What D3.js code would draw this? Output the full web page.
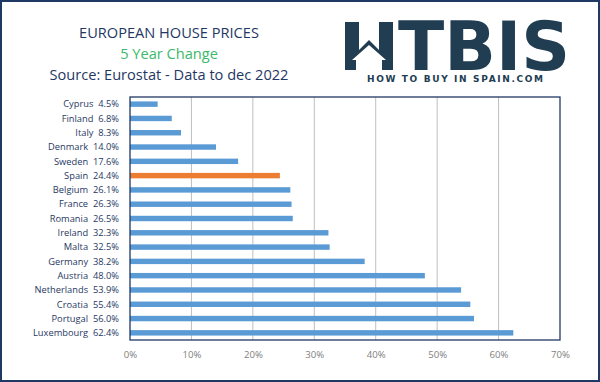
<!DOCTYPE html>
<html><head><meta charset="utf-8">
<script src="https://cdn.jsdelivr.net/npm/d3@7"></script>
<style>html,body{margin:0;padding:0;background:#fff;}svg{display:block;}</style>
</head><body>
<script>
const countries = ["Cyprus","Finland","Italy","Denmark","Sweden","Spain","Belgium","France","Romania","Ireland","Malta","Germany","Austria","Netherlands","Croatia","Portugal","Luxembourg"];
const changes = [4.5,6.8,8.3,14.0,17.6,24.4,26.1,26.3,26.5,32.3,32.5,38.2,48.0,53.9,55.4,56.0,62.4];
const highlight = "Spain";
const xTicks = [0,10,20,30,40,50,60,70];
const titleLines = ["EUROPEAN HOUSE PRICES","5 Year Change","Source: Eurostat - Data to dec 2022"];
const logoText = "TBIS";
const logoSub = "HOW TO BUY IN SPAIN.COM";

const W = 600, H = 382;
const svg = d3.select("body").append("svg").attr("width", W).attr("height", H);
svg.append("rect").attr("x",1).attr("y",1).attr("width",W-2).attr("height",H-2)
  .attr("fill","#fff").attr("stroke","#1f3864").attr("stroke-width",2);

const plot = {l:130, t:97, r:560, b:340};
const x = d3.scaleLinear().domain([0,70]).range([plot.l, plot.r]);
const y = d3.scaleBand().domain(countries).range([plot.t, plot.b]).paddingInner(0.62).paddingOuter(0.31);

// gridlines
svg.append("g").selectAll("line").data(xTicks.slice(1,-1)).join("line")
  .attr("x1",d=>x(d)).attr("x2",d=>x(d)).attr("y1",plot.t).attr("y2",plot.b)
  .attr("stroke","#bfbfbf").attr("stroke-width",1);

// bars
svg.append("g").selectAll("rect").data(countries).join("rect")
  .attr("x", x(0)).attr("y", d=>y(d))
  .attr("width", (d,i)=>x(changes[i])-x(0)).attr("height", y.bandwidth())
  .attr("fill", d=> d===highlight ? "#ed7d31" : "#5b9bd5");

// plot frame
svg.append("rect").attr("x",plot.l).attr("y",plot.t).attr("width",plot.r-plot.l).attr("height",plot.b-plot.t)
  .attr("fill","none").attr("stroke","#1f3864").attr("stroke-width",1.3);

// category labels
svg.append("g").selectAll("text").data(countries).join("text")
  .attr("x", 119).attr("y", d=>y(d)+y.bandwidth()/2).attr("dy","0.35em")
  .attr("text-anchor","end").attr("font-family","'Open Sans', sans-serif").attr("font-size",9.3)
  .attr("fill","#1f3864").style("white-space","pre")
  .text((d,i)=> d + "  " + changes[i].toFixed(1) + "%");

// x axis
const xAxis = d3.axisBottom(x).tickValues(xTicks).tickFormat(d=>d+"%").tickSize(0).tickPadding(11);
const ga = svg.append("g").attr("transform",`translate(0,${plot.b})`).call(xAxis);
ga.select(".domain").remove();
ga.selectAll("text").attr("font-family","'Open Sans', sans-serif").attr("font-size",9.6).attr("fill","#808080");

// titles
const tcx = 169;
const tfs = 14.6;
svg.append("text").attr("x",tcx).attr("y",38).attr("text-anchor","middle")
  .attr("font-family","'Open Sans', sans-serif").attr("font-size",tfs).attr("fill","#1f3864").text(titleLines[0]);
svg.append("text").attr("x",tcx).attr("y",59).attr("text-anchor","middle")
  .attr("font-family","'Open Sans', sans-serif").attr("font-size",tfs).attr("fill","#3cb96a").text(titleLines[1]);
svg.append("text").attr("x",tcx).attr("y",80).attr("text-anchor","middle")
  .attr("font-family","'Open Sans', sans-serif").attr("font-size",tfs).attr("fill","#1f3864").text(titleLines[2]);

// logo
const logoCol = "#213d52";
const lg = svg.append("g").attr("fill", logoCol);
// H with house roof
lg.append("rect").attr("x",345).attr("y",22).attr("width",14).attr("height",48);
lg.append("rect").attr("x",379).attr("y",22).attr("width",14).attr("height",48);
lg.append("path").attr("d","M359,50 L369,40 L379,50 L379,70 L359,70 Z");
lg.append("path").attr("fill","#fff").attr("d","M352,60 L369,45 L386,60 L382,60 L382,70 L356,70 L356,60 Z");
lg.append("text").attr("x",398).attr("y",70).attr("font-family","'DejaVu Sans', sans-serif").attr("font-weight","bold")
  .attr("font-size",67).attr("textLength",172).attr("lengthAdjust","spacingAndGlyphs").text(logoText);
lg.append("text").attr("x",455).attr("y",82).attr("text-anchor","middle").attr("font-family","'DejaVu Sans', sans-serif")
  .attr("font-weight","bold").attr("font-size",9).attr("textLength",176).attr("lengthAdjust","spacing").text(logoSub);
</script>
</body></html>
